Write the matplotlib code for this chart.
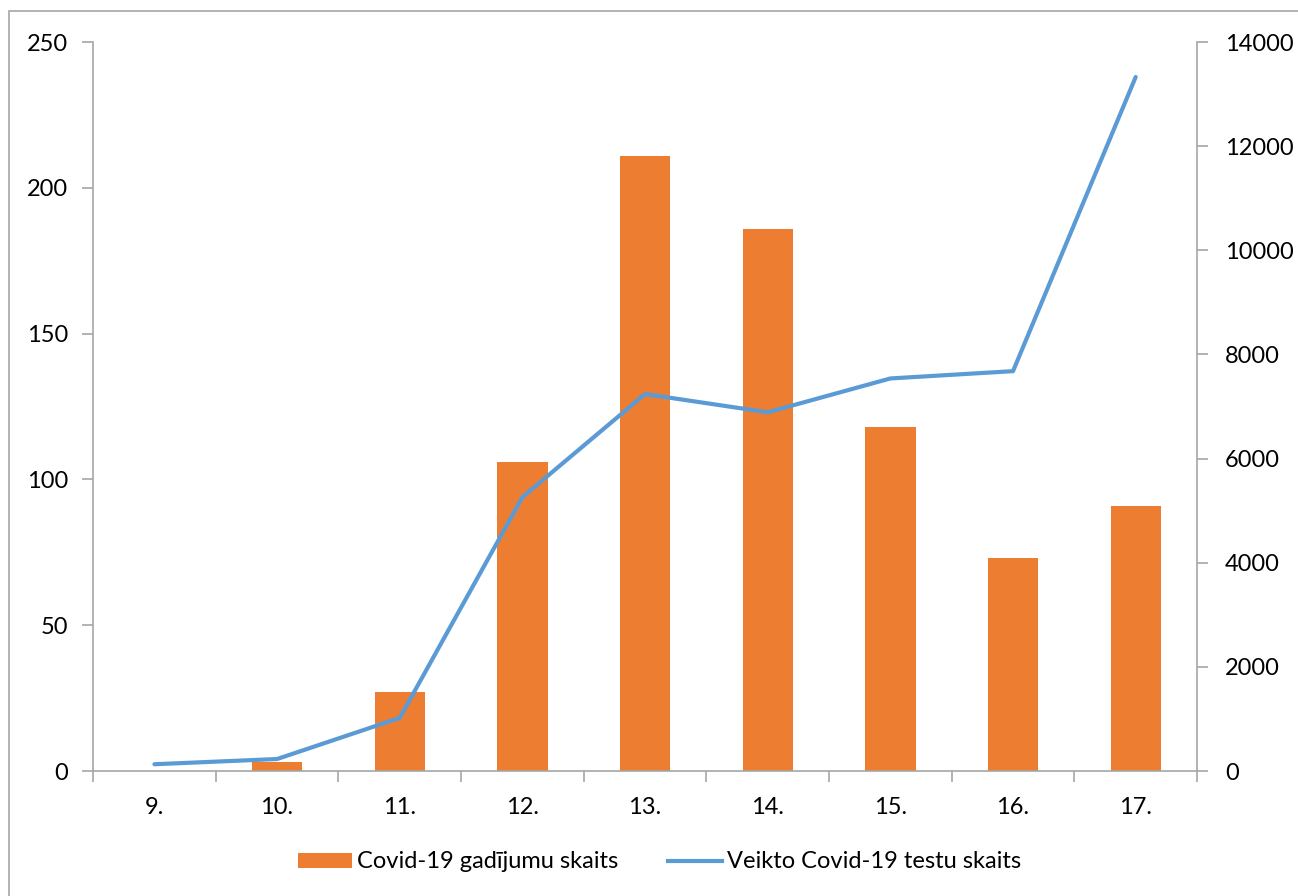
import matplotlib
matplotlib.use("Agg")
import matplotlib.pyplot as plt
import numpy as np
from matplotlib.patches import Rectangle
from matplotlib.lines import Line2D
from matplotlib.patches import Patch

plt.rcParams['font.family'] = ['Lato', 'DejaVu Sans']

weeks = ["9.", "10.", "11.", "12.", "13.", "14.", "15.", "16.", "17."]
cases = [0, 3, 27, 106, 211, 186, 118, 73, 91]
tests = [130, 230, 1020, 5260, 7240, 6890, 7540, 7680, 13330]

bar_color = '#ED7D31'
line_color = '#5B9BD5'
axis_gray = '#A6A6A6'

fig = plt.figure(figsize=(12.98, 8.96), dpi=100)
ax = fig.add_axes([0.0717, 0.1395, 0.8505, 0.8135])
ax2 = ax.twinx()

x = np.arange(len(weeks))
ax.bar(x, cases, width=0.41, color=bar_color, zorder=2)
ax2.plot(x, tests, color=line_color, lw=3, solid_capstyle='round', zorder=3)

ax.set_xlim(-0.5, len(weeks) - 0.5)
ax.set_ylim(0, 250)
ax2.set_ylim(0, 14000)
ax.set_yticks(np.arange(0, 251, 50))
ax2.set_yticks(np.arange(0, 14001, 2000))

ax.set_xticks(x)
ax.set_xticklabels(weeks)
ax.set_xticks(np.arange(-0.5, len(weeks), 1), minor=True)
ax.tick_params(axis='x', which='major', length=0, pad=19, labelsize=17)
ax.tick_params(axis='x', which='minor', length=8, color=axis_gray, width=1.2)
ax.tick_params(axis='y', length=8, color=axis_gray, width=1.2, labelsize=17, pad=10)
ax2.tick_params(axis='y', length=8, color=axis_gray, width=1.2, labelsize=17, pad=12)

for a in (ax, ax2):
    a.spines['top'].set_visible(False)
    for s in ('left', 'right', 'bottom'):
        a.spines[s].set_color(axis_gray)
        a.spines[s].set_linewidth(1.2)
ax.spines['right'].set_visible(False)
ax2.spines['left'].set_visible(False)
ax2.spines['bottom'].set_visible(False)
ax.set_zorder(ax2.get_zorder() - 1)
ax.patch.set_visible(False)

# outer chart frame
fig.patches.append(Rectangle((9 / 1298, -0.1), 1.2, 1 - 11 / 896 + 0.1,
                             transform=fig.transFigure, fill=False,
                             edgecolor=axis_gray, lw=1.2))

handles = [Patch(facecolor=bar_color, edgecolor='none'),
           Line2D([0], [0], color=line_color, lw=3)]
fig.legend(handles, ["Covid-19 gadījumu skaits", "Veikto Covid-19 testu skaits"],
           loc='center', bbox_to_anchor=(0.508, 0.038), ncol=2, frameon=False,
           fontsize=17, handlelength=2.3, handleheight=0.6, handletextpad=0.2,
           columnspacing=2.1)

fig.savefig("out.png", dpi=100)
